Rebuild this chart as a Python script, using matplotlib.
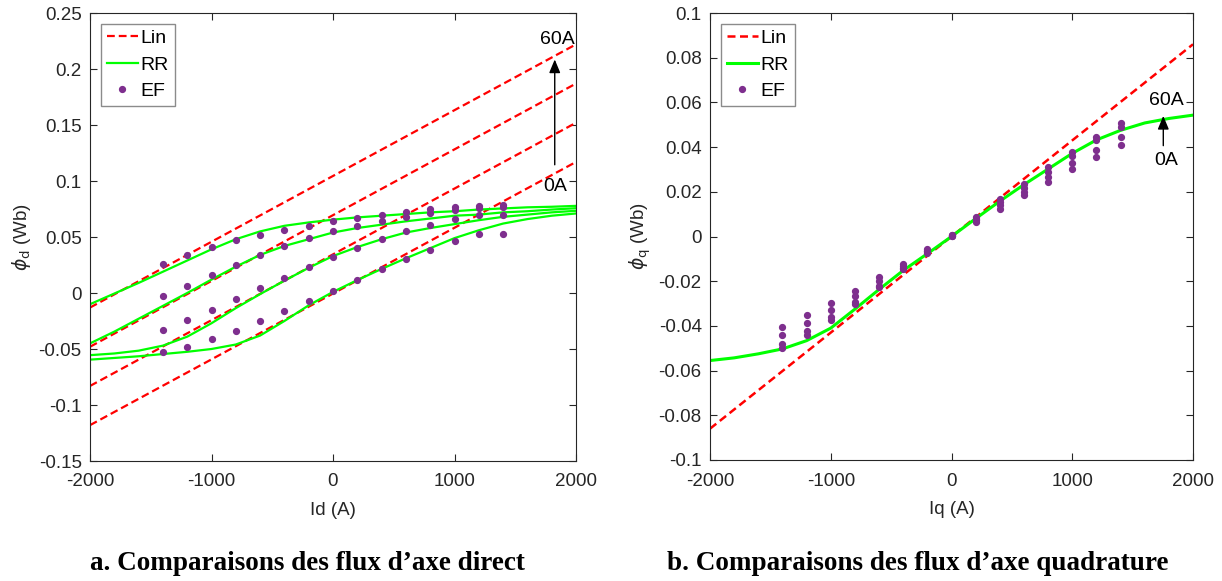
import matplotlib.pyplot as plt

# axe direct : Lin (droites), RR (modele), EF (elements finis) pour 0, 20, 40, 60 A
id_lin = [-2000, 2000]
lin_d_0 = [-0.118, 0.117]
lin_d_20 = [-0.083, 0.152]
lin_d_40 = [-0.048, 0.187]
lin_d_60 = [-0.013, 0.222]

i_rr = [-2000, -1800, -1600, -1400, -1200, -1000, -800, -600, -400, -200, 0,
        200, 400, 600, 800, 1000, 1200, 1400, 1600, 1800, 2000]
rr_d_0 = [-0.0595, -0.058, -0.0565, -0.0545, -0.0525, -0.050, -0.046, -0.038, -0.025, -0.011, 0.001,
          0.0115, 0.0215, 0.031, 0.040, 0.049, 0.056, 0.062, 0.066, 0.069, 0.071]
rr_d_20 = [-0.0555, -0.054, -0.0515, -0.047, -0.039, -0.027, -0.0135, -0.001, 0.011, 0.0225, 0.033,
           0.041, 0.048, 0.054, 0.058, 0.0615, 0.065, 0.068, 0.070, 0.072, 0.0734]
rr_d_40 = [-0.045, -0.0345, -0.023, -0.0115, 0.000, 0.012, 0.0235, 0.034, 0.042, 0.048, 0.054,
           0.058, 0.061, 0.064, 0.0665, 0.069, 0.070, 0.072, 0.073, 0.0745, 0.0757]
rr_d_60 = [-0.010, -0.0005, 0.009, 0.019, 0.029, 0.039, 0.048, 0.055, 0.060, 0.063, 0.0655,
           0.0675, 0.069, 0.0705, 0.072, 0.073, 0.0745, 0.0755, 0.0765, 0.077, 0.0778]

i_ef = [-1400, -1200, -1000, -800, -600, -400, -200, 0, 200, 400, 600, 800, 1000, 1200, 1400]
ef_d_0 = [-0.053, -0.048, -0.041, -0.034, -0.025, -0.016, -0.007, 0.002, 0.012, 0.021, 0.030,
          0.038, 0.046, 0.053, 0.053]
ef_d_20 = [-0.033, -0.024, -0.015, -0.0054, 0.0045, 0.0134, 0.023, 0.032, 0.040, 0.048, 0.055,
           0.061, 0.066, 0.070, 0.070]
ef_d_40 = [-0.003, 0.0065, 0.016, 0.025, 0.034, 0.042, 0.049, 0.055, 0.060, 0.064, 0.068,
           0.071, 0.074, 0.076, 0.077]
ef_d_60 = [0.026, 0.034, 0.041, 0.047, 0.052, 0.056, 0.060, 0.064, 0.067, 0.070, 0.072,
           0.075, 0.077, 0.078, 0.079]

# axe quadrature
iq_lin = [-2000, 2000]
lin_q = [-0.086, 0.086]
rr_q = [-0.0555, -0.0543, -0.0525, -0.0503, -0.0466, -0.041, -0.0325, -0.0237, -0.0152, -0.0077, 0.0,
        0.008, 0.0158, 0.0232, 0.0302, 0.0372, 0.0432, 0.0475, 0.0508, 0.0528, 0.0543]
ef_q_0 = [-0.050, -0.0442, -0.0373, -0.0301, -0.0227, -0.0146, -0.0072, 0.0005, 0.0087, 0.0169,
          0.0237, 0.0312, 0.0379, 0.0446, 0.0506]
ef_q_20 = [-0.0481, -0.0421, -0.0361, -0.0294, -0.022, -0.014, -0.0067, 0.0005, 0.008, 0.0154,
           0.0219, 0.0289, 0.036, 0.0431, 0.0491]
ef_q_40 = [-0.0442, -0.0385, -0.0328, -0.0267, -0.020, -0.0131, -0.0063, 0.0003, 0.0072, 0.0139,
           0.020, 0.0267, 0.033, 0.0387, 0.0443]
ef_q_60 = [-0.0406, -0.035, -0.0297, -0.0242, -0.0182, -0.0122, -0.0058, 0.0002, 0.0064, 0.0124,
           0.0187, 0.0244, 0.0301, 0.0357, 0.0409]

RED = '#ff0000'
GREEN = '#00ff00'
PURPLE = '#7e2f8e'
DARK = '#262626'

plt.rcParams['font.family'] = ['Liberation Sans', 'DejaVu Sans']
plt.rcParams['font.size'] = 13.5
plt.rcParams['mathtext.fontset'] = 'dejavusans'
plt.rcParams['axes.unicode_minus'] = False

fig = plt.figure(figsize=(12.22, 5.81), dpi=100)
ax1 = fig.add_axes([90 / 1222, 120 / 581, 486 / 1222, 448 / 581])
ax2 = fig.add_axes([710 / 1222, 121 / 581, 483 / 1222, 447 / 581])


def style(ax):
    ax.tick_params(direction='in', top=True, right=True, length=5, width=0.8,
                   colors=DARK, labelsize=13.5)
    ax.tick_params(axis='x', pad=9)
    ax.tick_params(axis='y', pad=6)
    for s in ax.spines.values():
        s.set_color(DARK)
        s.set_linewidth(0.8)


def legend(ax):
    leg = ax.legend(loc='upper left', fontsize=14, frameon=True, fancybox=False,
                    edgecolor='#6e6e6e', borderaxespad=0.55, handlelength=1.6,
                    handletextpad=0.15, labelspacing=0.45, borderpad=0.3)
    leg.get_frame().set_linewidth(1.0)


# --- a. axe direct ---
lin_d = [lin_d_0, lin_d_20, lin_d_40, lin_d_60]
rr_d = [rr_d_0, rr_d_20, rr_d_40, rr_d_60]
ef_d = [ef_d_0, ef_d_20, ef_d_40, ef_d_60]
for k in range(4):
    ax1.plot(id_lin, lin_d[k], color=RED, lw=1.6, dashes=(3.5, 1.8),
             label='Lin' if k == 0 else '_nolegend_')
for k in range(4):
    ax1.plot(i_rr, rr_d[k], color=GREEN, lw=1.6,
             label='RR' if k == 0 else '_nolegend_')
for k in range(4):
    ax1.plot(i_ef, ef_d[k], ls='none', marker='o', ms=4.2, color=PURPLE,
             label='EF' if k == 0 else '_nolegend_')
ax1.set_xlim(-2000, 2000)
ax1.set_ylim(-0.15, 0.25)
ax1.set_xticks([-2000, -1000, 0, 1000, 2000])
ax1.set_yticks([-0.15, -0.1, -0.05, 0, 0.05, 0.1, 0.15, 0.2, 0.25])
ax1.set_yticklabels(['-0.15', '-0.1', '-0.05', '0', '0.05', '0.1', '0.15', '0.2', '0.25'])
ax1.set_xlabel('Id (A)', fontsize=13.5, color=DARK, labelpad=8)
ax1.set_ylabel(r'$\phi_\mathrm{d}$ (Wb)', fontsize=13.5, color=DARK)
ax1.annotate('', xy=(1825, 0.211), xytext=(1825, 0.112),
             arrowprops=dict(arrowstyle='-|>,head_width=0.25,head_length=0.6', color='k', lw=1))
ax1.text(1845, 0.226, '60A', ha='center', va='center', fontsize=14)
ax1.text(1825, 0.0955, '0A', ha='center', va='center', fontsize=14)
style(ax1)
legend(ax1)

# --- b. axe quadrature ---
ax2.plot(iq_lin, lin_q, color=RED, lw=1.8, dashes=(3.2, 1.8), label='Lin')
ax2.plot(i_rr, rr_q, color=GREEN, lw=2.2, label='RR')
ef_q = [ef_q_0, ef_q_20, ef_q_40, ef_q_60]
for k in range(4):
    ax2.plot(i_ef, ef_q[k], ls='none', marker='o', ms=4.2, color=PURPLE,
             label='EF' if k == 0 else '_nolegend_')
ax2.set_xlim(-2000, 2000)
ax2.set_ylim(-0.1, 0.1)
ax2.set_xticks([-2000, -1000, 0, 1000, 2000])
ax2.set_yticks([-0.1, -0.08, -0.06, -0.04, -0.02, 0, 0.02, 0.04, 0.06, 0.08, 0.1])
ax2.set_yticklabels(['-0.1', '-0.08', '-0.06', '-0.04', '-0.02', '0', '0.02', '0.04',
                     '0.06', '0.08', '0.1'])
ax2.set_xlabel('Iq (A)', fontsize=13.5, color=DARK, labelpad=8)
ax2.set_ylabel(r'$\phi_\mathrm{q}$ (Wb)', fontsize=13.5, color=DARK)
ax2.annotate('', xy=(1754, 0.0552), xytext=(1754, 0.0394),
             arrowprops=dict(arrowstyle='-|>,head_width=0.25,head_length=0.6', color='k', lw=1))
ax2.text(1778, 0.0607, '60A', ha='center', va='center', fontsize=14)
ax2.text(1778, 0.034, '0A', ha='center', va='center', fontsize=14)
style(ax2)
legend(ax2)

# legendes sous les graphes
cap = dict(fontsize=19.5, fontweight='bold', family=['Liberation Serif', 'DejaVu Serif'],
           ha='center', va='center', color='black')
fig.text(307 / 1222, 1 - 564 / 581, 'a. Comparaisons des flux d\u2019axe direct', **cap)
fig.text(918 / 1222, 1 - 564 / 581, 'b. Comparaisons des flux d\u2019axe quadrature', **cap)

fig.savefig('out.png', dpi=100)
